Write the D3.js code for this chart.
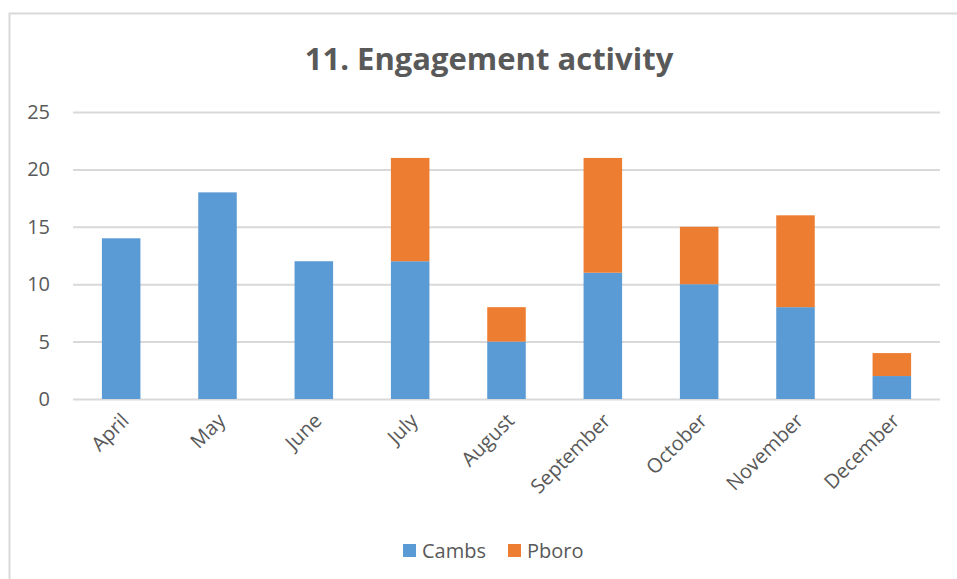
<!DOCTYPE html>
<html><head><meta charset="utf-8">
<script src="https://cdn.jsdelivr.net/npm/d3@7"></script>
<style>body{margin:0;background:#fff}svg{display:block}</style>
</head><body>
<svg id="c" width="957" height="579"></svg>
<script>
const categories = ["April","May","June","July","August","September","October","November","December"];
const cambs = [14,18,12,12,5,11,10,8,2];
const pboro = [0,0,0,9,3,10,5,8,2];
const seriesNames = ["Cambs","Pboro"];
const seriesColors = ["#5B9BD5","#ED7D31"];
const yTicks = [0,5,10,15,20,25];

(function(){
const svg = d3.select("#c");
const font = "'Open Sans', sans-serif";
const textColor = "#595959";

svg.append("rect").attr("x",9.5).attr("y",13.5).attr("width",1000).attr("height",1000)
  .attr("fill","#fff").attr("stroke","#d9d9d9").attr("stroke-width",2);

const pl = 73, pr = 940, pt = 112, pb = 399;
const x = d3.scaleBand().domain(categories).range([pl,pr]).paddingInner(0.6).paddingOuter(0.3);
const y = d3.scaleLinear().domain([0,25]).range([pb,pt]);

svg.append("text").attr("x",489).attr("y",70).attr("text-anchor","middle")
  .attr("font-family",font).attr("font-weight","bold").attr("font-size",31)
  .attr("fill",textColor).text("11. Engagement activity");

const gy = svg.append("g").attr("transform",`translate(${pl},0)`)
  .call(d3.axisLeft(y).tickValues(yTicks).tickSize(-(pr-pl)).tickPadding(23));
gy.select(".domain").remove();
gy.selectAll(".tick line").attr("stroke","#d9d9d9").attr("stroke-width",2);
gy.selectAll(".tick text").attr("font-family",font).attr("font-size",20).attr("fill",textColor);

const data = categories.map((c,i)=>({cat:c, Cambs:cambs[i], Pboro:pboro[i]}));
const stack = d3.stack().keys(seriesNames)(data);
svg.append("g").selectAll("g").data(stack).join("g")
  .attr("fill",(d,i)=>seriesColors[i])
  .selectAll("rect").data(d=>d).join("rect")
  .attr("x",d=>x(d.data.cat)).attr("width",x.bandwidth())
  .attr("y",d=>y(d[1])).attr("height",d=>y(d[0])-y(d[1]));

const gx = svg.append("g").attr("transform",`translate(0,${pb})`)
  .call(d3.axisBottom(x).tickSize(0).tickPadding(0));
gx.select(".domain").remove();
gx.selectAll(".tick text").attr("font-family",font).attr("font-size",20).attr("fill",textColor)
  .attr("text-anchor","end").attr("dy",0)
  .attr("transform","translate(9,23) rotate(-45)");

const leg = svg.append("g");
const legX = [403,508];
seriesNames.forEach((s,i)=>{
  leg.append("rect").attr("x",legX[i]).attr("y",544).attr("width",13).attr("height",13).attr("fill",seriesColors[i]);
  leg.append("text").attr("x",legX[i]+19).attr("y",558).attr("font-family",font).attr("font-size",20)
    .attr("fill",textColor).text(s);
});
})();
</script>
</body></html>
